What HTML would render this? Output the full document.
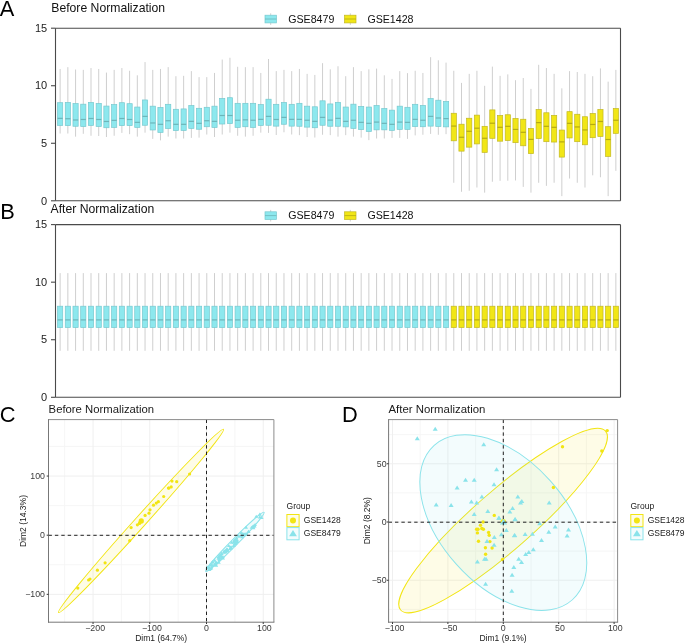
<!DOCTYPE html><html><head><meta charset="utf-8"><style>html,body{margin:0;padding:0;background:#fff;width:685px;height:643px;overflow:hidden;position:relative}svg,text{font-family:"Liberation Sans",sans-serif}</style></head><body><svg width="685" height="643" viewBox="0 0 685 643" style="position:absolute;left:0;top:0;will-change:transform">
<rect width="685" height="643" fill="#fff"/>
<text x="-0.2" y="15.9" font-size="21.8" fill="#000">A</text>
<text x="51.3" y="12" font-size="12.2" fill="#111">Before Normalization</text>
<line x1="270.7" y1="13.3" x2="270.7" y2="24.9" stroke="#cfcfcf" stroke-width="1"/>
<rect x="265" y="15.2" width="11.4" height="7.7" fill="#8de8ee" stroke="#77c9cf" stroke-width="0.7"/>
<line x1="265" y1="19.0" x2="276.4" y2="19.0" stroke="#6db5b9" stroke-width="0.8"/>
<text x="288.2" y="22.6" font-size="10.65" fill="#111">GSE8479</text>
<line x1="350.3" y1="13.3" x2="350.3" y2="24.9" stroke="#cfcfcf" stroke-width="1"/>
<rect x="344.6" y="15.2" width="11.4" height="7.7" fill="#f1e616" stroke="#c2b820" stroke-width="0.7"/>
<line x1="344.6" y1="19.0" x2="356.0" y2="19.0" stroke="#b5aa12" stroke-width="0.8"/>
<text x="367.4" y="22.6" font-size="10.65" fill="#111">GSE1428</text>
<line x1="60.13" y1="68.96" x2="60.13" y2="133.54" stroke="#cfcfcf" stroke-width="1"/>
<rect x="57.53" y="102.69" width="5.2" height="22.69" fill="#8de8ee" stroke="#77c9cf" stroke-width="0.7"/>
<line x1="57.53" y1="118.36" x2="62.73" y2="118.36" stroke="#6db5b9" stroke-width="1.2"/>
<line x1="67.85" y1="67.15" x2="67.85" y2="133.54" stroke="#cfcfcf" stroke-width="1"/>
<rect x="65.25" y="102.44" width="5.2" height="23.18" fill="#8de8ee" stroke="#77c9cf" stroke-width="0.7"/>
<line x1="65.25" y1="118.74" x2="70.45" y2="118.74" stroke="#6db5b9" stroke-width="1.2"/>
<line x1="75.57" y1="69.51" x2="75.57" y2="136.65" stroke="#cfcfcf" stroke-width="1"/>
<rect x="72.97" y="103.56" width="5.2" height="22.69" fill="#8de8ee" stroke="#77c9cf" stroke-width="0.7"/>
<line x1="72.97" y1="119.98" x2="78.17" y2="119.98" stroke="#6db5b9" stroke-width="1.2"/>
<line x1="83.29" y1="69.87" x2="83.29" y2="133.79" stroke="#cfcfcf" stroke-width="1"/>
<rect x="80.69" y="104.18" width="5.2" height="22.31" fill="#8de8ee" stroke="#77c9cf" stroke-width="0.7"/>
<line x1="80.69" y1="119.48" x2="85.89" y2="119.48" stroke="#6db5b9" stroke-width="1.2"/>
<line x1="91.01" y1="68.06" x2="91.01" y2="135.78" stroke="#cfcfcf" stroke-width="1"/>
<rect x="88.41" y="102.44" width="5.2" height="22.94" fill="#8de8ee" stroke="#77c9cf" stroke-width="0.7"/>
<line x1="88.41" y1="118.49" x2="93.61" y2="118.49" stroke="#6db5b9" stroke-width="1.2"/>
<line x1="98.72" y1="68.96" x2="98.72" y2="136.03" stroke="#cfcfcf" stroke-width="1"/>
<rect x="96.12" y="103.44" width="5.2" height="23.06" fill="#8de8ee" stroke="#77c9cf" stroke-width="0.7"/>
<line x1="96.12" y1="119.48" x2="101.32" y2="119.48" stroke="#6db5b9" stroke-width="1.2"/>
<line x1="106.44" y1="72.58" x2="106.44" y2="137.02" stroke="#cfcfcf" stroke-width="1"/>
<rect x="103.84" y="106.05" width="5.2" height="21.69" fill="#8de8ee" stroke="#77c9cf" stroke-width="0.7"/>
<line x1="103.84" y1="121.47" x2="109.04" y2="121.47" stroke="#6db5b9" stroke-width="1.2"/>
<line x1="114.16" y1="69.87" x2="114.16" y2="135.78" stroke="#cfcfcf" stroke-width="1"/>
<rect x="111.56" y="104.56" width="5.2" height="22.81" fill="#8de8ee" stroke="#77c9cf" stroke-width="0.7"/>
<line x1="111.56" y1="120.35" x2="116.76" y2="120.35" stroke="#6db5b9" stroke-width="1.2"/>
<line x1="121.88" y1="68.06" x2="121.88" y2="132.92" stroke="#cfcfcf" stroke-width="1"/>
<rect x="119.28" y="102.69" width="5.2" height="22.94" fill="#8de8ee" stroke="#77c9cf" stroke-width="0.7"/>
<line x1="119.28" y1="118.49" x2="124.48" y2="118.49" stroke="#6db5b9" stroke-width="1.2"/>
<line x1="129.60" y1="70.77" x2="129.60" y2="134.16" stroke="#cfcfcf" stroke-width="1"/>
<rect x="127.00" y="103.68" width="5.2" height="21.94" fill="#8de8ee" stroke="#77c9cf" stroke-width="0.7"/>
<line x1="127.00" y1="119.48" x2="132.20" y2="119.48" stroke="#6db5b9" stroke-width="1.2"/>
<line x1="137.32" y1="75.30" x2="137.32" y2="136.65" stroke="#cfcfcf" stroke-width="1"/>
<rect x="134.72" y="107.04" width="5.2" height="20.33" fill="#8de8ee" stroke="#77c9cf" stroke-width="0.7"/>
<line x1="134.72" y1="122.34" x2="139.92" y2="122.34" stroke="#6db5b9" stroke-width="1.2"/>
<line x1="145.04" y1="62.08" x2="145.04" y2="132.67" stroke="#cfcfcf" stroke-width="1"/>
<rect x="142.44" y="99.95" width="5.2" height="25.30" fill="#8de8ee" stroke="#77c9cf" stroke-width="0.7"/>
<line x1="142.44" y1="116.37" x2="147.64" y2="116.37" stroke="#6db5b9" stroke-width="1.2"/>
<line x1="152.75" y1="69.87" x2="152.75" y2="138.89" stroke="#cfcfcf" stroke-width="1"/>
<rect x="150.15" y="106.17" width="5.2" height="23.81" fill="#8de8ee" stroke="#77c9cf" stroke-width="0.7"/>
<line x1="150.15" y1="122.97" x2="155.35" y2="122.97" stroke="#6db5b9" stroke-width="1.2"/>
<line x1="160.47" y1="68.96" x2="160.47" y2="140.38" stroke="#cfcfcf" stroke-width="1"/>
<rect x="157.87" y="107.42" width="5.2" height="25.05" fill="#8de8ee" stroke="#77c9cf" stroke-width="0.7"/>
<line x1="157.87" y1="124.33" x2="163.07" y2="124.33" stroke="#6db5b9" stroke-width="1.2"/>
<line x1="168.19" y1="67.15" x2="168.19" y2="136.65" stroke="#cfcfcf" stroke-width="1"/>
<rect x="165.59" y="104.31" width="5.2" height="24.18" fill="#8de8ee" stroke="#77c9cf" stroke-width="0.7"/>
<line x1="165.59" y1="120.73" x2="170.79" y2="120.73" stroke="#6db5b9" stroke-width="1.2"/>
<line x1="175.91" y1="76.20" x2="175.91" y2="138.52" stroke="#cfcfcf" stroke-width="1"/>
<rect x="173.31" y="109.28" width="5.2" height="21.32" fill="#8de8ee" stroke="#77c9cf" stroke-width="0.7"/>
<line x1="173.31" y1="124.33" x2="178.51" y2="124.33" stroke="#6db5b9" stroke-width="1.2"/>
<line x1="183.63" y1="75.84" x2="183.63" y2="138.52" stroke="#cfcfcf" stroke-width="1"/>
<rect x="181.03" y="108.91" width="5.2" height="21.57" fill="#8de8ee" stroke="#77c9cf" stroke-width="0.7"/>
<line x1="181.03" y1="124.33" x2="186.23" y2="124.33" stroke="#6db5b9" stroke-width="1.2"/>
<line x1="191.35" y1="71.14" x2="191.35" y2="137.89" stroke="#cfcfcf" stroke-width="1"/>
<rect x="188.75" y="105.55" width="5.2" height="22.81" fill="#8de8ee" stroke="#77c9cf" stroke-width="0.7"/>
<line x1="188.75" y1="121.35" x2="193.95" y2="121.35" stroke="#6db5b9" stroke-width="1.2"/>
<line x1="199.07" y1="77.11" x2="199.07" y2="137.65" stroke="#cfcfcf" stroke-width="1"/>
<rect x="196.47" y="108.29" width="5.2" height="20.95" fill="#8de8ee" stroke="#77c9cf" stroke-width="0.7"/>
<line x1="196.47" y1="123.34" x2="201.67" y2="123.34" stroke="#6db5b9" stroke-width="1.2"/>
<line x1="206.78" y1="77.11" x2="206.78" y2="134.54" stroke="#cfcfcf" stroke-width="1"/>
<rect x="204.18" y="107.29" width="5.2" height="19.45" fill="#8de8ee" stroke="#77c9cf" stroke-width="0.7"/>
<line x1="204.18" y1="120.73" x2="209.38" y2="120.73" stroke="#6db5b9" stroke-width="1.2"/>
<line x1="214.50" y1="72.95" x2="214.50" y2="137.02" stroke="#cfcfcf" stroke-width="1"/>
<rect x="211.90" y="106.17" width="5.2" height="21.32" fill="#8de8ee" stroke="#77c9cf" stroke-width="0.7"/>
<line x1="211.90" y1="121.35" x2="217.10" y2="121.35" stroke="#6db5b9" stroke-width="1.2"/>
<line x1="222.22" y1="59.55" x2="222.22" y2="134.53" stroke="#cfcfcf" stroke-width="1"/>
<rect x="219.62" y="98.46" width="5.2" height="25.55" fill="#8de8ee" stroke="#77c9cf" stroke-width="0.7"/>
<line x1="219.62" y1="115.50" x2="224.82" y2="115.50" stroke="#6db5b9" stroke-width="1.2"/>
<line x1="229.94" y1="57.74" x2="229.94" y2="132.67" stroke="#cfcfcf" stroke-width="1"/>
<rect x="227.34" y="97.71" width="5.2" height="25.92" fill="#8de8ee" stroke="#77c9cf" stroke-width="0.7"/>
<line x1="227.34" y1="115.50" x2="232.54" y2="115.50" stroke="#6db5b9" stroke-width="1.2"/>
<line x1="237.66" y1="66.79" x2="237.66" y2="135.78" stroke="#cfcfcf" stroke-width="1"/>
<rect x="235.06" y="103.31" width="5.2" height="24.06" fill="#8de8ee" stroke="#77c9cf" stroke-width="0.7"/>
<line x1="235.06" y1="120.23" x2="240.26" y2="120.23" stroke="#6db5b9" stroke-width="1.2"/>
<line x1="245.38" y1="67.15" x2="245.38" y2="136.65" stroke="#cfcfcf" stroke-width="1"/>
<rect x="242.78" y="103.31" width="5.2" height="23.43" fill="#8de8ee" stroke="#77c9cf" stroke-width="0.7"/>
<line x1="242.78" y1="119.85" x2="247.98" y2="119.85" stroke="#6db5b9" stroke-width="1.2"/>
<line x1="253.10" y1="67.15" x2="253.10" y2="135.78" stroke="#cfcfcf" stroke-width="1"/>
<rect x="250.50" y="103.31" width="5.2" height="24.06" fill="#8de8ee" stroke="#77c9cf" stroke-width="0.7"/>
<line x1="250.50" y1="120.23" x2="255.70" y2="120.23" stroke="#6db5b9" stroke-width="1.2"/>
<line x1="260.81" y1="72.95" x2="260.81" y2="132.67" stroke="#cfcfcf" stroke-width="1"/>
<rect x="258.21" y="104.56" width="5.2" height="20.82" fill="#8de8ee" stroke="#77c9cf" stroke-width="0.7"/>
<line x1="258.21" y1="119.36" x2="263.41" y2="119.36" stroke="#6db5b9" stroke-width="1.2"/>
<line x1="268.53" y1="59.01" x2="268.53" y2="132.92" stroke="#cfcfcf" stroke-width="1"/>
<rect x="265.93" y="99.21" width="5.2" height="26.05" fill="#8de8ee" stroke="#77c9cf" stroke-width="0.7"/>
<line x1="265.93" y1="116.37" x2="271.13" y2="116.37" stroke="#6db5b9" stroke-width="1.2"/>
<line x1="276.25" y1="71.14" x2="276.25" y2="135.03" stroke="#cfcfcf" stroke-width="1"/>
<rect x="273.65" y="104.31" width="5.2" height="21.82" fill="#8de8ee" stroke="#77c9cf" stroke-width="0.7"/>
<line x1="273.65" y1="119.48" x2="278.85" y2="119.48" stroke="#6db5b9" stroke-width="1.2"/>
<line x1="283.97" y1="69.87" x2="283.97" y2="132.29" stroke="#cfcfcf" stroke-width="1"/>
<rect x="281.37" y="102.44" width="5.2" height="21.82" fill="#8de8ee" stroke="#77c9cf" stroke-width="0.7"/>
<line x1="281.37" y1="117.37" x2="286.57" y2="117.37" stroke="#6db5b9" stroke-width="1.2"/>
<line x1="291.69" y1="71.14" x2="291.69" y2="134.53" stroke="#cfcfcf" stroke-width="1"/>
<rect x="289.09" y="104.31" width="5.2" height="21.82" fill="#8de8ee" stroke="#77c9cf" stroke-width="0.7"/>
<line x1="289.09" y1="119.36" x2="294.29" y2="119.36" stroke="#6db5b9" stroke-width="1.2"/>
<line x1="299.41" y1="68.96" x2="299.41" y2="135.16" stroke="#cfcfcf" stroke-width="1"/>
<rect x="296.81" y="103.31" width="5.2" height="22.94" fill="#8de8ee" stroke="#77c9cf" stroke-width="0.7"/>
<line x1="296.81" y1="119.36" x2="302.01" y2="119.36" stroke="#6db5b9" stroke-width="1.2"/>
<line x1="307.13" y1="73.85" x2="307.13" y2="137.02" stroke="#cfcfcf" stroke-width="1"/>
<rect x="304.53" y="106.17" width="5.2" height="20.95" fill="#8de8ee" stroke="#77c9cf" stroke-width="0.7"/>
<line x1="304.53" y1="120.23" x2="309.73" y2="120.23" stroke="#6db5b9" stroke-width="1.2"/>
<line x1="314.84" y1="74.94" x2="314.84" y2="137.52" stroke="#cfcfcf" stroke-width="1"/>
<rect x="312.24" y="106.79" width="5.2" height="20.95" fill="#8de8ee" stroke="#77c9cf" stroke-width="0.7"/>
<line x1="312.24" y1="121.35" x2="317.44" y2="121.35" stroke="#6db5b9" stroke-width="1.2"/>
<line x1="322.56" y1="63.17" x2="322.56" y2="134.78" stroke="#cfcfcf" stroke-width="1"/>
<rect x="319.96" y="100.82" width="5.2" height="24.43" fill="#8de8ee" stroke="#77c9cf" stroke-width="0.7"/>
<line x1="319.96" y1="117.37" x2="325.16" y2="117.37" stroke="#6db5b9" stroke-width="1.2"/>
<line x1="330.28" y1="69.33" x2="330.28" y2="135.16" stroke="#cfcfcf" stroke-width="1"/>
<rect x="327.68" y="103.93" width="5.2" height="22.31" fill="#8de8ee" stroke="#77c9cf" stroke-width="0.7"/>
<line x1="327.68" y1="120.10" x2="332.88" y2="120.10" stroke="#6db5b9" stroke-width="1.2"/>
<line x1="338.00" y1="66.25" x2="338.00" y2="136.65" stroke="#cfcfcf" stroke-width="1"/>
<rect x="335.40" y="102.32" width="5.2" height="23.93" fill="#8de8ee" stroke="#77c9cf" stroke-width="0.7"/>
<line x1="335.40" y1="118.36" x2="340.60" y2="118.36" stroke="#6db5b9" stroke-width="1.2"/>
<line x1="345.72" y1="76.20" x2="345.72" y2="135.16" stroke="#cfcfcf" stroke-width="1"/>
<rect x="343.12" y="107.04" width="5.2" height="19.83" fill="#8de8ee" stroke="#77c9cf" stroke-width="0.7"/>
<line x1="343.12" y1="121.35" x2="348.32" y2="121.35" stroke="#6db5b9" stroke-width="1.2"/>
<line x1="353.44" y1="67.15" x2="353.44" y2="136.65" stroke="#cfcfcf" stroke-width="1"/>
<rect x="350.84" y="104.18" width="5.2" height="24.18" fill="#8de8ee" stroke="#77c9cf" stroke-width="0.7"/>
<line x1="350.84" y1="120.23" x2="356.04" y2="120.23" stroke="#6db5b9" stroke-width="1.2"/>
<line x1="361.16" y1="71.14" x2="361.16" y2="137.64" stroke="#cfcfcf" stroke-width="1"/>
<rect x="358.56" y="106.42" width="5.2" height="23.18" fill="#8de8ee" stroke="#77c9cf" stroke-width="0.7"/>
<line x1="358.56" y1="122.34" x2="363.76" y2="122.34" stroke="#6db5b9" stroke-width="1.2"/>
<line x1="368.87" y1="69.33" x2="368.87" y2="140.13" stroke="#cfcfcf" stroke-width="1"/>
<rect x="366.27" y="107.04" width="5.2" height="24.43" fill="#8de8ee" stroke="#77c9cf" stroke-width="0.7"/>
<line x1="366.27" y1="123.34" x2="371.47" y2="123.34" stroke="#6db5b9" stroke-width="1.2"/>
<line x1="376.59" y1="68.60" x2="376.59" y2="138.51" stroke="#cfcfcf" stroke-width="1"/>
<rect x="373.99" y="105.55" width="5.2" height="24.30" fill="#8de8ee" stroke="#77c9cf" stroke-width="0.7"/>
<line x1="373.99" y1="122.09" x2="379.19" y2="122.09" stroke="#6db5b9" stroke-width="1.2"/>
<line x1="384.31" y1="75.30" x2="384.31" y2="138.51" stroke="#cfcfcf" stroke-width="1"/>
<rect x="381.71" y="108.54" width="5.2" height="21.32" fill="#8de8ee" stroke="#77c9cf" stroke-width="0.7"/>
<line x1="381.71" y1="123.34" x2="386.91" y2="123.34" stroke="#6db5b9" stroke-width="1.2"/>
<line x1="392.03" y1="78.92" x2="392.03" y2="137.89" stroke="#cfcfcf" stroke-width="1"/>
<rect x="389.43" y="110.15" width="5.2" height="20.20" fill="#8de8ee" stroke="#77c9cf" stroke-width="0.7"/>
<line x1="389.43" y1="124.33" x2="394.63" y2="124.33" stroke="#6db5b9" stroke-width="1.2"/>
<line x1="399.75" y1="71.14" x2="399.75" y2="137.89" stroke="#cfcfcf" stroke-width="1"/>
<rect x="397.15" y="106.17" width="5.2" height="23.18" fill="#8de8ee" stroke="#77c9cf" stroke-width="0.7"/>
<line x1="397.15" y1="122.09" x2="402.35" y2="122.09" stroke="#6db5b9" stroke-width="1.2"/>
<line x1="407.47" y1="73.13" x2="407.47" y2="138.89" stroke="#cfcfcf" stroke-width="1"/>
<rect x="404.87" y="107.29" width="5.2" height="22.07" fill="#8de8ee" stroke="#77c9cf" stroke-width="0.7"/>
<line x1="404.87" y1="122.34" x2="410.07" y2="122.34" stroke="#6db5b9" stroke-width="1.2"/>
<line x1="415.19" y1="70.77" x2="415.19" y2="135.40" stroke="#cfcfcf" stroke-width="1"/>
<rect x="412.59" y="104.31" width="5.2" height="22.19" fill="#8de8ee" stroke="#77c9cf" stroke-width="0.7"/>
<line x1="412.59" y1="119.36" x2="417.79" y2="119.36" stroke="#6db5b9" stroke-width="1.2"/>
<line x1="422.90" y1="72.95" x2="422.90" y2="134.78" stroke="#cfcfcf" stroke-width="1"/>
<rect x="420.30" y="105.43" width="5.2" height="21.32" fill="#8de8ee" stroke="#77c9cf" stroke-width="0.7"/>
<line x1="420.30" y1="120.23" x2="425.50" y2="120.23" stroke="#6db5b9" stroke-width="1.2"/>
<line x1="430.62" y1="57.20" x2="430.62" y2="133.91" stroke="#cfcfcf" stroke-width="1"/>
<rect x="428.02" y="98.58" width="5.2" height="27.54" fill="#8de8ee" stroke="#77c9cf" stroke-width="0.7"/>
<line x1="428.02" y1="116.37" x2="433.22" y2="116.37" stroke="#6db5b9" stroke-width="1.2"/>
<line x1="438.34" y1="60.27" x2="438.34" y2="134.78" stroke="#cfcfcf" stroke-width="1"/>
<rect x="435.74" y="100.20" width="5.2" height="26.29" fill="#8de8ee" stroke="#77c9cf" stroke-width="0.7"/>
<line x1="435.74" y1="117.99" x2="440.94" y2="117.99" stroke="#6db5b9" stroke-width="1.2"/>
<line x1="446.06" y1="62.63" x2="446.06" y2="134.16" stroke="#cfcfcf" stroke-width="1"/>
<rect x="443.46" y="101.45" width="5.2" height="25.42" fill="#8de8ee" stroke="#77c9cf" stroke-width="0.7"/>
<line x1="443.46" y1="118.61" x2="448.66" y2="118.61" stroke="#6db5b9" stroke-width="1.2"/>
<line x1="453.78" y1="70.77" x2="453.78" y2="182.78" stroke="#cfcfcf" stroke-width="1"/>
<rect x="451.18" y="113.26" width="5.2" height="27.54" fill="#f1e616" stroke="#c2b820" stroke-width="0.7"/>
<line x1="451.18" y1="126.07" x2="456.38" y2="126.07" stroke="#b5aa12" stroke-width="1.2"/>
<line x1="461.50" y1="82.90" x2="461.50" y2="191.77" stroke="#cfcfcf" stroke-width="1"/>
<rect x="458.90" y="124.21" width="5.2" height="26.92" fill="#f1e616" stroke="#c2b820" stroke-width="0.7"/>
<line x1="458.90" y1="137.27" x2="464.10" y2="137.27" stroke="#b5aa12" stroke-width="1.2"/>
<line x1="469.22" y1="73.85" x2="469.22" y2="190.74" stroke="#cfcfcf" stroke-width="1"/>
<rect x="466.62" y="118.24" width="5.2" height="28.91" fill="#f1e616" stroke="#c2b820" stroke-width="0.7"/>
<line x1="466.62" y1="131.30" x2="471.82" y2="131.30" stroke="#b5aa12" stroke-width="1.2"/>
<line x1="476.93" y1="70.77" x2="476.93" y2="187.53" stroke="#cfcfcf" stroke-width="1"/>
<rect x="474.33" y="115.13" width="5.2" height="28.78" fill="#f1e616" stroke="#c2b820" stroke-width="0.7"/>
<line x1="474.33" y1="128.19" x2="479.53" y2="128.19" stroke="#b5aa12" stroke-width="1.2"/>
<line x1="484.65" y1="85.80" x2="484.65" y2="192.67" stroke="#cfcfcf" stroke-width="1"/>
<rect x="482.05" y="126.32" width="5.2" height="26.05" fill="#f1e616" stroke="#c2b820" stroke-width="0.7"/>
<line x1="482.05" y1="138.26" x2="487.25" y2="138.26" stroke="#b5aa12" stroke-width="1.2"/>
<line x1="492.37" y1="66.61" x2="492.37" y2="181.75" stroke="#cfcfcf" stroke-width="1"/>
<rect x="489.77" y="109.90" width="5.2" height="28.41" fill="#f1e616" stroke="#c2b820" stroke-width="0.7"/>
<line x1="489.77" y1="123.21" x2="494.97" y2="123.21" stroke="#b5aa12" stroke-width="1.2"/>
<line x1="500.09" y1="75.84" x2="500.09" y2="180.85" stroke="#cfcfcf" stroke-width="1"/>
<rect x="497.49" y="115.50" width="5.2" height="25.67" fill="#f1e616" stroke="#c2b820" stroke-width="0.7"/>
<line x1="497.49" y1="127.32" x2="502.69" y2="127.32" stroke="#b5aa12" stroke-width="1.2"/>
<line x1="507.81" y1="74.39" x2="507.81" y2="180.72" stroke="#cfcfcf" stroke-width="1"/>
<rect x="505.21" y="114.76" width="5.2" height="25.80" fill="#f1e616" stroke="#c2b820" stroke-width="0.7"/>
<line x1="505.21" y1="126.32" x2="510.41" y2="126.32" stroke="#b5aa12" stroke-width="1.2"/>
<line x1="515.53" y1="80.19" x2="515.53" y2="180.47" stroke="#cfcfcf" stroke-width="1"/>
<rect x="512.93" y="118.49" width="5.2" height="24.18" fill="#f1e616" stroke="#c2b820" stroke-width="0.7"/>
<line x1="512.93" y1="129.43" x2="518.13" y2="129.43" stroke="#b5aa12" stroke-width="1.2"/>
<line x1="523.25" y1="78.01" x2="523.25" y2="186.89" stroke="#cfcfcf" stroke-width="1"/>
<rect x="520.65" y="119.24" width="5.2" height="26.55" fill="#f1e616" stroke="#c2b820" stroke-width="0.7"/>
<line x1="520.65" y1="132.30" x2="525.85" y2="132.30" stroke="#b5aa12" stroke-width="1.2"/>
<line x1="530.96" y1="88.88" x2="530.96" y2="192.67" stroke="#cfcfcf" stroke-width="1"/>
<rect x="528.36" y="128.44" width="5.2" height="25.18" fill="#f1e616" stroke="#c2b820" stroke-width="0.7"/>
<line x1="528.36" y1="139.39" x2="533.56" y2="139.39" stroke="#b5aa12" stroke-width="1.2"/>
<line x1="538.68" y1="64.80" x2="538.68" y2="182.78" stroke="#cfcfcf" stroke-width="1"/>
<rect x="536.08" y="109.53" width="5.2" height="29.03" fill="#f1e616" stroke="#c2b820" stroke-width="0.7"/>
<line x1="536.08" y1="122.59" x2="541.28" y2="122.59" stroke="#b5aa12" stroke-width="1.2"/>
<line x1="546.40" y1="68.06" x2="546.40" y2="185.86" stroke="#cfcfcf" stroke-width="1"/>
<rect x="543.80" y="112.77" width="5.2" height="28.91" fill="#f1e616" stroke="#c2b820" stroke-width="0.7"/>
<line x1="543.80" y1="126.33" x2="549.00" y2="126.33" stroke="#b5aa12" stroke-width="1.2"/>
<line x1="554.12" y1="73.85" x2="554.12" y2="182.78" stroke="#cfcfcf" stroke-width="1"/>
<rect x="551.52" y="115.38" width="5.2" height="26.67" fill="#f1e616" stroke="#c2b820" stroke-width="0.7"/>
<line x1="551.52" y1="127.32" x2="556.72" y2="127.32" stroke="#b5aa12" stroke-width="1.2"/>
<line x1="561.84" y1="88.33" x2="561.84" y2="196.14" stroke="#cfcfcf" stroke-width="1"/>
<rect x="559.24" y="130.06" width="5.2" height="27.04" fill="#f1e616" stroke="#c2b820" stroke-width="0.7"/>
<line x1="559.24" y1="141.88" x2="564.44" y2="141.88" stroke="#b5aa12" stroke-width="1.2"/>
<line x1="569.56" y1="71.14" x2="569.56" y2="178.54" stroke="#cfcfcf" stroke-width="1"/>
<rect x="566.96" y="111.65" width="5.2" height="26.30" fill="#f1e616" stroke="#c2b820" stroke-width="0.7"/>
<line x1="566.96" y1="123.34" x2="572.16" y2="123.34" stroke="#b5aa12" stroke-width="1.2"/>
<line x1="577.28" y1="72.04" x2="577.28" y2="182.78" stroke="#cfcfcf" stroke-width="1"/>
<rect x="574.68" y="114.26" width="5.2" height="27.42" fill="#f1e616" stroke="#c2b820" stroke-width="0.7"/>
<line x1="574.68" y1="126.95" x2="579.88" y2="126.95" stroke="#b5aa12" stroke-width="1.2"/>
<line x1="584.99" y1="73.85" x2="584.99" y2="187.53" stroke="#cfcfcf" stroke-width="1"/>
<rect x="582.39" y="116.75" width="5.2" height="28.04" fill="#f1e616" stroke="#c2b820" stroke-width="0.7"/>
<line x1="582.39" y1="129.93" x2="587.59" y2="129.93" stroke="#b5aa12" stroke-width="1.2"/>
<line x1="592.71" y1="76.20" x2="592.71" y2="175.33" stroke="#cfcfcf" stroke-width="1"/>
<rect x="590.11" y="113.51" width="5.2" height="24.18" fill="#f1e616" stroke="#c2b820" stroke-width="0.7"/>
<line x1="590.11" y1="124.46" x2="595.31" y2="124.46" stroke="#b5aa12" stroke-width="1.2"/>
<line x1="600.43" y1="68.42" x2="600.43" y2="177.26" stroke="#cfcfcf" stroke-width="1"/>
<rect x="597.83" y="109.53" width="5.2" height="26.92" fill="#f1e616" stroke="#c2b820" stroke-width="0.7"/>
<line x1="597.83" y1="121.47" x2="603.03" y2="121.47" stroke="#b5aa12" stroke-width="1.2"/>
<line x1="608.15" y1="81.64" x2="608.15" y2="196.14" stroke="#cfcfcf" stroke-width="1"/>
<rect x="605.55" y="126.70" width="5.2" height="29.65" fill="#f1e616" stroke="#c2b820" stroke-width="0.7"/>
<line x1="605.55" y1="139.51" x2="610.75" y2="139.51" stroke="#b5aa12" stroke-width="1.2"/>
<line x1="615.87" y1="69.87" x2="615.87" y2="170.83" stroke="#cfcfcf" stroke-width="1"/>
<rect x="613.27" y="108.54" width="5.2" height="24.80" fill="#f1e616" stroke="#c2b820" stroke-width="0.7"/>
<line x1="613.27" y1="120.23" x2="618.47" y2="120.23" stroke="#b5aa12" stroke-width="1.2"/>
<line x1="55.5" y1="28.2" x2="620.5" y2="28.2" stroke="#4a4a4a" stroke-width="1.1"/>
<line x1="55.5" y1="200.8" x2="620.5" y2="200.8" stroke="#4a4a4a" stroke-width="1.1"/>
<line x1="620.5" y1="28.2" x2="620.5" y2="200.8" stroke="#4a4a4a" stroke-width="1.1"/>
<line x1="55.5" y1="28.2" x2="55.5" y2="200.8" stroke="#4a4a4a" stroke-width="1.1"/>
<line x1="51.0" y1="200.80" x2="55.5" y2="200.80" stroke="#4a4a4a" stroke-width="1.1"/>
<text x="47.2" y="204.50" text-anchor="end" font-size="11" fill="#222">0</text>
<line x1="51.0" y1="143.27" x2="55.5" y2="143.27" stroke="#4a4a4a" stroke-width="1.1"/>
<text x="47.2" y="146.97" text-anchor="end" font-size="11" fill="#222">5</text>
<line x1="51.0" y1="85.73" x2="55.5" y2="85.73" stroke="#4a4a4a" stroke-width="1.1"/>
<text x="47.2" y="89.43" text-anchor="end" font-size="11" fill="#222">10</text>
<line x1="51.0" y1="28.20" x2="55.5" y2="28.20" stroke="#4a4a4a" stroke-width="1.1"/>
<text x="47.2" y="31.90" text-anchor="end" font-size="11" fill="#222">15</text>
<text x="0.2" y="219.1" font-size="21.8" fill="#000">B</text>
<text x="50.6" y="212.9" font-size="12.2" fill="#111">After Normalization</text>
<line x1="270.7" y1="209.9" x2="270.7" y2="221.5" stroke="#cfcfcf" stroke-width="1"/>
<rect x="265" y="211.79999999999998" width="11.4" height="7.7" fill="#8de8ee" stroke="#77c9cf" stroke-width="0.7"/>
<line x1="265" y1="215.6" x2="276.4" y2="215.6" stroke="#6db5b9" stroke-width="0.8"/>
<text x="288.2" y="219.2" font-size="10.65" fill="#111">GSE8479</text>
<line x1="350.3" y1="209.9" x2="350.3" y2="221.5" stroke="#cfcfcf" stroke-width="1"/>
<rect x="344.6" y="211.79999999999998" width="11.4" height="7.7" fill="#f1e616" stroke="#c2b820" stroke-width="0.7"/>
<line x1="344.6" y1="215.6" x2="356.0" y2="215.6" stroke="#b5aa12" stroke-width="0.8"/>
<text x="367.4" y="219.2" font-size="10.65" fill="#111">GSE1428</text>
<line x1="60.13" y1="273.10" x2="60.13" y2="350.80" stroke="#cfcfcf" stroke-width="1"/>
<rect x="57.53" y="306.20" width="5.2" height="21.35" fill="#8de8ee" stroke="#77c9cf" stroke-width="0.7"/>
<line x1="57.53" y1="319.90" x2="62.73" y2="319.90" stroke="#6db5b9" stroke-width="1.2"/>
<line x1="67.85" y1="273.10" x2="67.85" y2="350.80" stroke="#cfcfcf" stroke-width="1"/>
<rect x="65.25" y="306.20" width="5.2" height="21.35" fill="#8de8ee" stroke="#77c9cf" stroke-width="0.7"/>
<line x1="65.25" y1="319.90" x2="70.45" y2="319.90" stroke="#6db5b9" stroke-width="1.2"/>
<line x1="75.57" y1="273.10" x2="75.57" y2="350.80" stroke="#cfcfcf" stroke-width="1"/>
<rect x="72.97" y="306.20" width="5.2" height="21.35" fill="#8de8ee" stroke="#77c9cf" stroke-width="0.7"/>
<line x1="72.97" y1="319.90" x2="78.17" y2="319.90" stroke="#6db5b9" stroke-width="1.2"/>
<line x1="83.29" y1="273.10" x2="83.29" y2="350.80" stroke="#cfcfcf" stroke-width="1"/>
<rect x="80.69" y="306.20" width="5.2" height="21.35" fill="#8de8ee" stroke="#77c9cf" stroke-width="0.7"/>
<line x1="80.69" y1="319.90" x2="85.89" y2="319.90" stroke="#6db5b9" stroke-width="1.2"/>
<line x1="91.01" y1="273.10" x2="91.01" y2="350.80" stroke="#cfcfcf" stroke-width="1"/>
<rect x="88.41" y="306.20" width="5.2" height="21.35" fill="#8de8ee" stroke="#77c9cf" stroke-width="0.7"/>
<line x1="88.41" y1="319.90" x2="93.61" y2="319.90" stroke="#6db5b9" stroke-width="1.2"/>
<line x1="98.72" y1="273.10" x2="98.72" y2="350.80" stroke="#cfcfcf" stroke-width="1"/>
<rect x="96.12" y="306.20" width="5.2" height="21.35" fill="#8de8ee" stroke="#77c9cf" stroke-width="0.7"/>
<line x1="96.12" y1="319.90" x2="101.32" y2="319.90" stroke="#6db5b9" stroke-width="1.2"/>
<line x1="106.44" y1="273.10" x2="106.44" y2="350.80" stroke="#cfcfcf" stroke-width="1"/>
<rect x="103.84" y="306.20" width="5.2" height="21.35" fill="#8de8ee" stroke="#77c9cf" stroke-width="0.7"/>
<line x1="103.84" y1="319.90" x2="109.04" y2="319.90" stroke="#6db5b9" stroke-width="1.2"/>
<line x1="114.16" y1="273.10" x2="114.16" y2="350.80" stroke="#cfcfcf" stroke-width="1"/>
<rect x="111.56" y="306.20" width="5.2" height="21.35" fill="#8de8ee" stroke="#77c9cf" stroke-width="0.7"/>
<line x1="111.56" y1="319.90" x2="116.76" y2="319.90" stroke="#6db5b9" stroke-width="1.2"/>
<line x1="121.88" y1="273.10" x2="121.88" y2="350.80" stroke="#cfcfcf" stroke-width="1"/>
<rect x="119.28" y="306.20" width="5.2" height="21.35" fill="#8de8ee" stroke="#77c9cf" stroke-width="0.7"/>
<line x1="119.28" y1="319.90" x2="124.48" y2="319.90" stroke="#6db5b9" stroke-width="1.2"/>
<line x1="129.60" y1="273.10" x2="129.60" y2="350.80" stroke="#cfcfcf" stroke-width="1"/>
<rect x="127.00" y="306.20" width="5.2" height="21.35" fill="#8de8ee" stroke="#77c9cf" stroke-width="0.7"/>
<line x1="127.00" y1="319.90" x2="132.20" y2="319.90" stroke="#6db5b9" stroke-width="1.2"/>
<line x1="137.32" y1="273.10" x2="137.32" y2="350.80" stroke="#cfcfcf" stroke-width="1"/>
<rect x="134.72" y="306.20" width="5.2" height="21.35" fill="#8de8ee" stroke="#77c9cf" stroke-width="0.7"/>
<line x1="134.72" y1="319.90" x2="139.92" y2="319.90" stroke="#6db5b9" stroke-width="1.2"/>
<line x1="145.04" y1="273.10" x2="145.04" y2="350.80" stroke="#cfcfcf" stroke-width="1"/>
<rect x="142.44" y="306.20" width="5.2" height="21.35" fill="#8de8ee" stroke="#77c9cf" stroke-width="0.7"/>
<line x1="142.44" y1="319.90" x2="147.64" y2="319.90" stroke="#6db5b9" stroke-width="1.2"/>
<line x1="152.75" y1="273.10" x2="152.75" y2="350.80" stroke="#cfcfcf" stroke-width="1"/>
<rect x="150.15" y="306.20" width="5.2" height="21.35" fill="#8de8ee" stroke="#77c9cf" stroke-width="0.7"/>
<line x1="150.15" y1="319.90" x2="155.35" y2="319.90" stroke="#6db5b9" stroke-width="1.2"/>
<line x1="160.47" y1="273.10" x2="160.47" y2="350.80" stroke="#cfcfcf" stroke-width="1"/>
<rect x="157.87" y="306.20" width="5.2" height="21.35" fill="#8de8ee" stroke="#77c9cf" stroke-width="0.7"/>
<line x1="157.87" y1="319.90" x2="163.07" y2="319.90" stroke="#6db5b9" stroke-width="1.2"/>
<line x1="168.19" y1="273.10" x2="168.19" y2="350.80" stroke="#cfcfcf" stroke-width="1"/>
<rect x="165.59" y="306.20" width="5.2" height="21.35" fill="#8de8ee" stroke="#77c9cf" stroke-width="0.7"/>
<line x1="165.59" y1="319.90" x2="170.79" y2="319.90" stroke="#6db5b9" stroke-width="1.2"/>
<line x1="175.91" y1="273.10" x2="175.91" y2="350.80" stroke="#cfcfcf" stroke-width="1"/>
<rect x="173.31" y="306.20" width="5.2" height="21.35" fill="#8de8ee" stroke="#77c9cf" stroke-width="0.7"/>
<line x1="173.31" y1="319.90" x2="178.51" y2="319.90" stroke="#6db5b9" stroke-width="1.2"/>
<line x1="183.63" y1="273.10" x2="183.63" y2="350.80" stroke="#cfcfcf" stroke-width="1"/>
<rect x="181.03" y="306.20" width="5.2" height="21.35" fill="#8de8ee" stroke="#77c9cf" stroke-width="0.7"/>
<line x1="181.03" y1="319.90" x2="186.23" y2="319.90" stroke="#6db5b9" stroke-width="1.2"/>
<line x1="191.35" y1="273.10" x2="191.35" y2="350.80" stroke="#cfcfcf" stroke-width="1"/>
<rect x="188.75" y="306.20" width="5.2" height="21.35" fill="#8de8ee" stroke="#77c9cf" stroke-width="0.7"/>
<line x1="188.75" y1="319.90" x2="193.95" y2="319.90" stroke="#6db5b9" stroke-width="1.2"/>
<line x1="199.07" y1="273.10" x2="199.07" y2="350.80" stroke="#cfcfcf" stroke-width="1"/>
<rect x="196.47" y="306.20" width="5.2" height="21.35" fill="#8de8ee" stroke="#77c9cf" stroke-width="0.7"/>
<line x1="196.47" y1="319.90" x2="201.67" y2="319.90" stroke="#6db5b9" stroke-width="1.2"/>
<line x1="206.78" y1="273.10" x2="206.78" y2="350.80" stroke="#cfcfcf" stroke-width="1"/>
<rect x="204.18" y="306.20" width="5.2" height="21.35" fill="#8de8ee" stroke="#77c9cf" stroke-width="0.7"/>
<line x1="204.18" y1="319.90" x2="209.38" y2="319.90" stroke="#6db5b9" stroke-width="1.2"/>
<line x1="214.50" y1="273.10" x2="214.50" y2="350.80" stroke="#cfcfcf" stroke-width="1"/>
<rect x="211.90" y="306.20" width="5.2" height="21.35" fill="#8de8ee" stroke="#77c9cf" stroke-width="0.7"/>
<line x1="211.90" y1="319.90" x2="217.10" y2="319.90" stroke="#6db5b9" stroke-width="1.2"/>
<line x1="222.22" y1="273.10" x2="222.22" y2="350.80" stroke="#cfcfcf" stroke-width="1"/>
<rect x="219.62" y="306.20" width="5.2" height="21.35" fill="#8de8ee" stroke="#77c9cf" stroke-width="0.7"/>
<line x1="219.62" y1="319.90" x2="224.82" y2="319.90" stroke="#6db5b9" stroke-width="1.2"/>
<line x1="229.94" y1="273.10" x2="229.94" y2="350.80" stroke="#cfcfcf" stroke-width="1"/>
<rect x="227.34" y="306.20" width="5.2" height="21.35" fill="#8de8ee" stroke="#77c9cf" stroke-width="0.7"/>
<line x1="227.34" y1="319.90" x2="232.54" y2="319.90" stroke="#6db5b9" stroke-width="1.2"/>
<line x1="237.66" y1="273.10" x2="237.66" y2="350.80" stroke="#cfcfcf" stroke-width="1"/>
<rect x="235.06" y="306.20" width="5.2" height="21.35" fill="#8de8ee" stroke="#77c9cf" stroke-width="0.7"/>
<line x1="235.06" y1="319.90" x2="240.26" y2="319.90" stroke="#6db5b9" stroke-width="1.2"/>
<line x1="245.38" y1="273.10" x2="245.38" y2="350.80" stroke="#cfcfcf" stroke-width="1"/>
<rect x="242.78" y="306.20" width="5.2" height="21.35" fill="#8de8ee" stroke="#77c9cf" stroke-width="0.7"/>
<line x1="242.78" y1="319.90" x2="247.98" y2="319.90" stroke="#6db5b9" stroke-width="1.2"/>
<line x1="253.10" y1="273.10" x2="253.10" y2="350.80" stroke="#cfcfcf" stroke-width="1"/>
<rect x="250.50" y="306.20" width="5.2" height="21.35" fill="#8de8ee" stroke="#77c9cf" stroke-width="0.7"/>
<line x1="250.50" y1="319.90" x2="255.70" y2="319.90" stroke="#6db5b9" stroke-width="1.2"/>
<line x1="260.81" y1="273.10" x2="260.81" y2="350.80" stroke="#cfcfcf" stroke-width="1"/>
<rect x="258.21" y="306.20" width="5.2" height="21.35" fill="#8de8ee" stroke="#77c9cf" stroke-width="0.7"/>
<line x1="258.21" y1="319.90" x2="263.41" y2="319.90" stroke="#6db5b9" stroke-width="1.2"/>
<line x1="268.53" y1="273.10" x2="268.53" y2="350.80" stroke="#cfcfcf" stroke-width="1"/>
<rect x="265.93" y="306.20" width="5.2" height="21.35" fill="#8de8ee" stroke="#77c9cf" stroke-width="0.7"/>
<line x1="265.93" y1="319.90" x2="271.13" y2="319.90" stroke="#6db5b9" stroke-width="1.2"/>
<line x1="276.25" y1="273.10" x2="276.25" y2="350.80" stroke="#cfcfcf" stroke-width="1"/>
<rect x="273.65" y="306.20" width="5.2" height="21.35" fill="#8de8ee" stroke="#77c9cf" stroke-width="0.7"/>
<line x1="273.65" y1="319.90" x2="278.85" y2="319.90" stroke="#6db5b9" stroke-width="1.2"/>
<line x1="283.97" y1="273.10" x2="283.97" y2="350.80" stroke="#cfcfcf" stroke-width="1"/>
<rect x="281.37" y="306.20" width="5.2" height="21.35" fill="#8de8ee" stroke="#77c9cf" stroke-width="0.7"/>
<line x1="281.37" y1="319.90" x2="286.57" y2="319.90" stroke="#6db5b9" stroke-width="1.2"/>
<line x1="291.69" y1="273.10" x2="291.69" y2="350.80" stroke="#cfcfcf" stroke-width="1"/>
<rect x="289.09" y="306.20" width="5.2" height="21.35" fill="#8de8ee" stroke="#77c9cf" stroke-width="0.7"/>
<line x1="289.09" y1="319.90" x2="294.29" y2="319.90" stroke="#6db5b9" stroke-width="1.2"/>
<line x1="299.41" y1="273.10" x2="299.41" y2="350.80" stroke="#cfcfcf" stroke-width="1"/>
<rect x="296.81" y="306.20" width="5.2" height="21.35" fill="#8de8ee" stroke="#77c9cf" stroke-width="0.7"/>
<line x1="296.81" y1="319.90" x2="302.01" y2="319.90" stroke="#6db5b9" stroke-width="1.2"/>
<line x1="307.13" y1="273.10" x2="307.13" y2="350.80" stroke="#cfcfcf" stroke-width="1"/>
<rect x="304.53" y="306.20" width="5.2" height="21.35" fill="#8de8ee" stroke="#77c9cf" stroke-width="0.7"/>
<line x1="304.53" y1="319.90" x2="309.73" y2="319.90" stroke="#6db5b9" stroke-width="1.2"/>
<line x1="314.84" y1="273.10" x2="314.84" y2="350.80" stroke="#cfcfcf" stroke-width="1"/>
<rect x="312.24" y="306.20" width="5.2" height="21.35" fill="#8de8ee" stroke="#77c9cf" stroke-width="0.7"/>
<line x1="312.24" y1="319.90" x2="317.44" y2="319.90" stroke="#6db5b9" stroke-width="1.2"/>
<line x1="322.56" y1="273.10" x2="322.56" y2="350.80" stroke="#cfcfcf" stroke-width="1"/>
<rect x="319.96" y="306.20" width="5.2" height="21.35" fill="#8de8ee" stroke="#77c9cf" stroke-width="0.7"/>
<line x1="319.96" y1="319.90" x2="325.16" y2="319.90" stroke="#6db5b9" stroke-width="1.2"/>
<line x1="330.28" y1="273.10" x2="330.28" y2="350.80" stroke="#cfcfcf" stroke-width="1"/>
<rect x="327.68" y="306.20" width="5.2" height="21.35" fill="#8de8ee" stroke="#77c9cf" stroke-width="0.7"/>
<line x1="327.68" y1="319.90" x2="332.88" y2="319.90" stroke="#6db5b9" stroke-width="1.2"/>
<line x1="338.00" y1="273.10" x2="338.00" y2="350.80" stroke="#cfcfcf" stroke-width="1"/>
<rect x="335.40" y="306.20" width="5.2" height="21.35" fill="#8de8ee" stroke="#77c9cf" stroke-width="0.7"/>
<line x1="335.40" y1="319.90" x2="340.60" y2="319.90" stroke="#6db5b9" stroke-width="1.2"/>
<line x1="345.72" y1="273.10" x2="345.72" y2="350.80" stroke="#cfcfcf" stroke-width="1"/>
<rect x="343.12" y="306.20" width="5.2" height="21.35" fill="#8de8ee" stroke="#77c9cf" stroke-width="0.7"/>
<line x1="343.12" y1="319.90" x2="348.32" y2="319.90" stroke="#6db5b9" stroke-width="1.2"/>
<line x1="353.44" y1="273.10" x2="353.44" y2="350.80" stroke="#cfcfcf" stroke-width="1"/>
<rect x="350.84" y="306.20" width="5.2" height="21.35" fill="#8de8ee" stroke="#77c9cf" stroke-width="0.7"/>
<line x1="350.84" y1="319.90" x2="356.04" y2="319.90" stroke="#6db5b9" stroke-width="1.2"/>
<line x1="361.16" y1="273.10" x2="361.16" y2="350.80" stroke="#cfcfcf" stroke-width="1"/>
<rect x="358.56" y="306.20" width="5.2" height="21.35" fill="#8de8ee" stroke="#77c9cf" stroke-width="0.7"/>
<line x1="358.56" y1="319.90" x2="363.76" y2="319.90" stroke="#6db5b9" stroke-width="1.2"/>
<line x1="368.87" y1="273.10" x2="368.87" y2="350.80" stroke="#cfcfcf" stroke-width="1"/>
<rect x="366.27" y="306.20" width="5.2" height="21.35" fill="#8de8ee" stroke="#77c9cf" stroke-width="0.7"/>
<line x1="366.27" y1="319.90" x2="371.47" y2="319.90" stroke="#6db5b9" stroke-width="1.2"/>
<line x1="376.59" y1="273.10" x2="376.59" y2="350.80" stroke="#cfcfcf" stroke-width="1"/>
<rect x="373.99" y="306.20" width="5.2" height="21.35" fill="#8de8ee" stroke="#77c9cf" stroke-width="0.7"/>
<line x1="373.99" y1="319.90" x2="379.19" y2="319.90" stroke="#6db5b9" stroke-width="1.2"/>
<line x1="384.31" y1="273.10" x2="384.31" y2="350.80" stroke="#cfcfcf" stroke-width="1"/>
<rect x="381.71" y="306.20" width="5.2" height="21.35" fill="#8de8ee" stroke="#77c9cf" stroke-width="0.7"/>
<line x1="381.71" y1="319.90" x2="386.91" y2="319.90" stroke="#6db5b9" stroke-width="1.2"/>
<line x1="392.03" y1="273.10" x2="392.03" y2="350.80" stroke="#cfcfcf" stroke-width="1"/>
<rect x="389.43" y="306.20" width="5.2" height="21.35" fill="#8de8ee" stroke="#77c9cf" stroke-width="0.7"/>
<line x1="389.43" y1="319.90" x2="394.63" y2="319.90" stroke="#6db5b9" stroke-width="1.2"/>
<line x1="399.75" y1="273.10" x2="399.75" y2="350.80" stroke="#cfcfcf" stroke-width="1"/>
<rect x="397.15" y="306.20" width="5.2" height="21.35" fill="#8de8ee" stroke="#77c9cf" stroke-width="0.7"/>
<line x1="397.15" y1="319.90" x2="402.35" y2="319.90" stroke="#6db5b9" stroke-width="1.2"/>
<line x1="407.47" y1="273.10" x2="407.47" y2="350.80" stroke="#cfcfcf" stroke-width="1"/>
<rect x="404.87" y="306.20" width="5.2" height="21.35" fill="#8de8ee" stroke="#77c9cf" stroke-width="0.7"/>
<line x1="404.87" y1="319.90" x2="410.07" y2="319.90" stroke="#6db5b9" stroke-width="1.2"/>
<line x1="415.19" y1="273.10" x2="415.19" y2="350.80" stroke="#cfcfcf" stroke-width="1"/>
<rect x="412.59" y="306.20" width="5.2" height="21.35" fill="#8de8ee" stroke="#77c9cf" stroke-width="0.7"/>
<line x1="412.59" y1="319.90" x2="417.79" y2="319.90" stroke="#6db5b9" stroke-width="1.2"/>
<line x1="422.90" y1="273.10" x2="422.90" y2="350.80" stroke="#cfcfcf" stroke-width="1"/>
<rect x="420.30" y="306.20" width="5.2" height="21.35" fill="#8de8ee" stroke="#77c9cf" stroke-width="0.7"/>
<line x1="420.30" y1="319.90" x2="425.50" y2="319.90" stroke="#6db5b9" stroke-width="1.2"/>
<line x1="430.62" y1="273.10" x2="430.62" y2="350.80" stroke="#cfcfcf" stroke-width="1"/>
<rect x="428.02" y="306.20" width="5.2" height="21.35" fill="#8de8ee" stroke="#77c9cf" stroke-width="0.7"/>
<line x1="428.02" y1="319.90" x2="433.22" y2="319.90" stroke="#6db5b9" stroke-width="1.2"/>
<line x1="438.34" y1="273.10" x2="438.34" y2="350.80" stroke="#cfcfcf" stroke-width="1"/>
<rect x="435.74" y="306.20" width="5.2" height="21.35" fill="#8de8ee" stroke="#77c9cf" stroke-width="0.7"/>
<line x1="435.74" y1="319.90" x2="440.94" y2="319.90" stroke="#6db5b9" stroke-width="1.2"/>
<line x1="446.06" y1="273.10" x2="446.06" y2="350.80" stroke="#cfcfcf" stroke-width="1"/>
<rect x="443.46" y="306.20" width="5.2" height="21.35" fill="#8de8ee" stroke="#77c9cf" stroke-width="0.7"/>
<line x1="443.46" y1="319.90" x2="448.66" y2="319.90" stroke="#6db5b9" stroke-width="1.2"/>
<line x1="453.78" y1="273.10" x2="453.78" y2="350.80" stroke="#cfcfcf" stroke-width="1"/>
<rect x="451.18" y="306.20" width="5.2" height="21.35" fill="#f1e616" stroke="#c2b820" stroke-width="0.7"/>
<line x1="451.18" y1="319.90" x2="456.38" y2="319.90" stroke="#b5aa12" stroke-width="1.2"/>
<line x1="461.50" y1="273.10" x2="461.50" y2="350.80" stroke="#cfcfcf" stroke-width="1"/>
<rect x="458.90" y="306.20" width="5.2" height="21.35" fill="#f1e616" stroke="#c2b820" stroke-width="0.7"/>
<line x1="458.90" y1="319.90" x2="464.10" y2="319.90" stroke="#b5aa12" stroke-width="1.2"/>
<line x1="469.22" y1="273.10" x2="469.22" y2="350.80" stroke="#cfcfcf" stroke-width="1"/>
<rect x="466.62" y="306.20" width="5.2" height="21.35" fill="#f1e616" stroke="#c2b820" stroke-width="0.7"/>
<line x1="466.62" y1="319.90" x2="471.82" y2="319.90" stroke="#b5aa12" stroke-width="1.2"/>
<line x1="476.93" y1="273.10" x2="476.93" y2="350.80" stroke="#cfcfcf" stroke-width="1"/>
<rect x="474.33" y="306.20" width="5.2" height="21.35" fill="#f1e616" stroke="#c2b820" stroke-width="0.7"/>
<line x1="474.33" y1="319.90" x2="479.53" y2="319.90" stroke="#b5aa12" stroke-width="1.2"/>
<line x1="484.65" y1="273.10" x2="484.65" y2="350.80" stroke="#cfcfcf" stroke-width="1"/>
<rect x="482.05" y="306.20" width="5.2" height="21.35" fill="#f1e616" stroke="#c2b820" stroke-width="0.7"/>
<line x1="482.05" y1="319.90" x2="487.25" y2="319.90" stroke="#b5aa12" stroke-width="1.2"/>
<line x1="492.37" y1="273.10" x2="492.37" y2="350.80" stroke="#cfcfcf" stroke-width="1"/>
<rect x="489.77" y="306.20" width="5.2" height="21.35" fill="#f1e616" stroke="#c2b820" stroke-width="0.7"/>
<line x1="489.77" y1="319.90" x2="494.97" y2="319.90" stroke="#b5aa12" stroke-width="1.2"/>
<line x1="500.09" y1="273.10" x2="500.09" y2="350.80" stroke="#cfcfcf" stroke-width="1"/>
<rect x="497.49" y="306.20" width="5.2" height="21.35" fill="#f1e616" stroke="#c2b820" stroke-width="0.7"/>
<line x1="497.49" y1="319.90" x2="502.69" y2="319.90" stroke="#b5aa12" stroke-width="1.2"/>
<line x1="507.81" y1="273.10" x2="507.81" y2="350.80" stroke="#cfcfcf" stroke-width="1"/>
<rect x="505.21" y="306.20" width="5.2" height="21.35" fill="#f1e616" stroke="#c2b820" stroke-width="0.7"/>
<line x1="505.21" y1="319.90" x2="510.41" y2="319.90" stroke="#b5aa12" stroke-width="1.2"/>
<line x1="515.53" y1="273.10" x2="515.53" y2="350.80" stroke="#cfcfcf" stroke-width="1"/>
<rect x="512.93" y="306.20" width="5.2" height="21.35" fill="#f1e616" stroke="#c2b820" stroke-width="0.7"/>
<line x1="512.93" y1="319.90" x2="518.13" y2="319.90" stroke="#b5aa12" stroke-width="1.2"/>
<line x1="523.25" y1="273.10" x2="523.25" y2="350.80" stroke="#cfcfcf" stroke-width="1"/>
<rect x="520.65" y="306.20" width="5.2" height="21.35" fill="#f1e616" stroke="#c2b820" stroke-width="0.7"/>
<line x1="520.65" y1="319.90" x2="525.85" y2="319.90" stroke="#b5aa12" stroke-width="1.2"/>
<line x1="530.96" y1="273.10" x2="530.96" y2="350.80" stroke="#cfcfcf" stroke-width="1"/>
<rect x="528.36" y="306.20" width="5.2" height="21.35" fill="#f1e616" stroke="#c2b820" stroke-width="0.7"/>
<line x1="528.36" y1="319.90" x2="533.56" y2="319.90" stroke="#b5aa12" stroke-width="1.2"/>
<line x1="538.68" y1="273.10" x2="538.68" y2="350.80" stroke="#cfcfcf" stroke-width="1"/>
<rect x="536.08" y="306.20" width="5.2" height="21.35" fill="#f1e616" stroke="#c2b820" stroke-width="0.7"/>
<line x1="536.08" y1="319.90" x2="541.28" y2="319.90" stroke="#b5aa12" stroke-width="1.2"/>
<line x1="546.40" y1="273.10" x2="546.40" y2="350.80" stroke="#cfcfcf" stroke-width="1"/>
<rect x="543.80" y="306.20" width="5.2" height="21.35" fill="#f1e616" stroke="#c2b820" stroke-width="0.7"/>
<line x1="543.80" y1="319.90" x2="549.00" y2="319.90" stroke="#b5aa12" stroke-width="1.2"/>
<line x1="554.12" y1="273.10" x2="554.12" y2="350.80" stroke="#cfcfcf" stroke-width="1"/>
<rect x="551.52" y="306.20" width="5.2" height="21.35" fill="#f1e616" stroke="#c2b820" stroke-width="0.7"/>
<line x1="551.52" y1="319.90" x2="556.72" y2="319.90" stroke="#b5aa12" stroke-width="1.2"/>
<line x1="561.84" y1="273.10" x2="561.84" y2="350.80" stroke="#cfcfcf" stroke-width="1"/>
<rect x="559.24" y="306.20" width="5.2" height="21.35" fill="#f1e616" stroke="#c2b820" stroke-width="0.7"/>
<line x1="559.24" y1="319.90" x2="564.44" y2="319.90" stroke="#b5aa12" stroke-width="1.2"/>
<line x1="569.56" y1="273.10" x2="569.56" y2="350.80" stroke="#cfcfcf" stroke-width="1"/>
<rect x="566.96" y="306.20" width="5.2" height="21.35" fill="#f1e616" stroke="#c2b820" stroke-width="0.7"/>
<line x1="566.96" y1="319.90" x2="572.16" y2="319.90" stroke="#b5aa12" stroke-width="1.2"/>
<line x1="577.28" y1="273.10" x2="577.28" y2="350.80" stroke="#cfcfcf" stroke-width="1"/>
<rect x="574.68" y="306.20" width="5.2" height="21.35" fill="#f1e616" stroke="#c2b820" stroke-width="0.7"/>
<line x1="574.68" y1="319.90" x2="579.88" y2="319.90" stroke="#b5aa12" stroke-width="1.2"/>
<line x1="584.99" y1="273.10" x2="584.99" y2="350.80" stroke="#cfcfcf" stroke-width="1"/>
<rect x="582.39" y="306.20" width="5.2" height="21.35" fill="#f1e616" stroke="#c2b820" stroke-width="0.7"/>
<line x1="582.39" y1="319.90" x2="587.59" y2="319.90" stroke="#b5aa12" stroke-width="1.2"/>
<line x1="592.71" y1="273.10" x2="592.71" y2="350.80" stroke="#cfcfcf" stroke-width="1"/>
<rect x="590.11" y="306.20" width="5.2" height="21.35" fill="#f1e616" stroke="#c2b820" stroke-width="0.7"/>
<line x1="590.11" y1="319.90" x2="595.31" y2="319.90" stroke="#b5aa12" stroke-width="1.2"/>
<line x1="600.43" y1="273.10" x2="600.43" y2="350.80" stroke="#cfcfcf" stroke-width="1"/>
<rect x="597.83" y="306.20" width="5.2" height="21.35" fill="#f1e616" stroke="#c2b820" stroke-width="0.7"/>
<line x1="597.83" y1="319.90" x2="603.03" y2="319.90" stroke="#b5aa12" stroke-width="1.2"/>
<line x1="608.15" y1="273.10" x2="608.15" y2="350.80" stroke="#cfcfcf" stroke-width="1"/>
<rect x="605.55" y="306.20" width="5.2" height="21.35" fill="#f1e616" stroke="#c2b820" stroke-width="0.7"/>
<line x1="605.55" y1="319.90" x2="610.75" y2="319.90" stroke="#b5aa12" stroke-width="1.2"/>
<line x1="615.87" y1="273.10" x2="615.87" y2="350.80" stroke="#cfcfcf" stroke-width="1"/>
<rect x="613.27" y="306.20" width="5.2" height="21.35" fill="#f1e616" stroke="#c2b820" stroke-width="0.7"/>
<line x1="613.27" y1="319.90" x2="618.47" y2="319.90" stroke="#b5aa12" stroke-width="1.2"/>
<line x1="55.5" y1="224.6" x2="620.5" y2="224.6" stroke="#4a4a4a" stroke-width="1.1"/>
<line x1="55.5" y1="397.3" x2="620.5" y2="397.3" stroke="#4a4a4a" stroke-width="1.1"/>
<line x1="620.5" y1="224.6" x2="620.5" y2="397.3" stroke="#4a4a4a" stroke-width="1.1"/>
<line x1="55.5" y1="224.6" x2="55.5" y2="397.3" stroke="#4a4a4a" stroke-width="1.1"/>
<line x1="51.0" y1="397.30" x2="55.5" y2="397.30" stroke="#4a4a4a" stroke-width="1.1"/>
<text x="47.2" y="401.00" text-anchor="end" font-size="11" fill="#222">0</text>
<line x1="51.0" y1="339.73" x2="55.5" y2="339.73" stroke="#4a4a4a" stroke-width="1.1"/>
<text x="47.2" y="343.43" text-anchor="end" font-size="11" fill="#222">5</text>
<line x1="51.0" y1="282.17" x2="55.5" y2="282.17" stroke="#4a4a4a" stroke-width="1.1"/>
<text x="47.2" y="285.87" text-anchor="end" font-size="11" fill="#222">10</text>
<line x1="51.0" y1="224.60" x2="55.5" y2="224.60" stroke="#4a4a4a" stroke-width="1.1"/>
<text x="47.2" y="228.30" text-anchor="end" font-size="11" fill="#222">15</text>
<text x="-0.3" y="421.7" font-size="21.8" fill="#000">C</text>
<text x="48.6" y="413.1" font-size="11.3" fill="#1a1a1a">Before Normalization</text>
<line x1="64.67" y1="419.6" x2="64.67" y2="622.2" stroke="#f5f5f5" stroke-width="0.9"/>
<line x1="121.41" y1="419.6" x2="121.41" y2="622.2" stroke="#f5f5f5" stroke-width="0.9"/>
<line x1="178.13" y1="419.6" x2="178.13" y2="622.2" stroke="#f5f5f5" stroke-width="0.9"/>
<line x1="234.87" y1="419.6" x2="234.87" y2="622.2" stroke="#f5f5f5" stroke-width="0.9"/>
<line x1="48.5" y1="564.78" x2="273.9" y2="564.78" stroke="#f5f5f5" stroke-width="0.9"/>
<line x1="48.5" y1="505.63" x2="273.9" y2="505.63" stroke="#f5f5f5" stroke-width="0.9"/>
<line x1="48.5" y1="446.48" x2="273.9" y2="446.48" stroke="#f5f5f5" stroke-width="0.9"/>
<line x1="93.04" y1="419.6" x2="93.04" y2="622.2" stroke="#efefef" stroke-width="1"/>
<line x1="149.77" y1="419.6" x2="149.77" y2="622.2" stroke="#efefef" stroke-width="1"/>
<line x1="206.50" y1="419.6" x2="206.50" y2="622.2" stroke="#efefef" stroke-width="1"/>
<line x1="263.23" y1="419.6" x2="263.23" y2="622.2" stroke="#efefef" stroke-width="1"/>
<line x1="48.5" y1="594.35" x2="273.9" y2="594.35" stroke="#efefef" stroke-width="1"/>
<line x1="48.5" y1="535.20" x2="273.9" y2="535.20" stroke="#efefef" stroke-width="1"/>
<line x1="48.5" y1="476.05" x2="273.9" y2="476.05" stroke="#efefef" stroke-width="1"/>
<ellipse cx="141.05" cy="520.90" rx="123.30" ry="5.50" transform="rotate(-48.00 141.05 520.90)" fill="#f2e512" fill-opacity="0.1" stroke="#f2e512" stroke-width="0.95"/>
<ellipse cx="234.90" cy="541.90" rx="41.60" ry="3.20" transform="rotate(-45.40 234.90 541.90)" fill="#8ae3ea" fill-opacity="0.15" stroke="#8ae3ea" stroke-width="0.95"/>
<circle cx="77.80" cy="588.10" r="1.6" fill="#f2e512"/>
<circle cx="88.60" cy="580.00" r="1.6" fill="#f2e512"/>
<circle cx="90.00" cy="579.00" r="1.6" fill="#f2e512"/>
<circle cx="97.40" cy="570.20" r="1.6" fill="#f2e512"/>
<circle cx="105.10" cy="562.80" r="1.6" fill="#f2e512"/>
<circle cx="129.70" cy="540.70" r="1.6" fill="#f2e512"/>
<circle cx="131.10" cy="527.60" r="1.6" fill="#f2e512"/>
<circle cx="137.40" cy="524.80" r="1.6" fill="#f2e512"/>
<circle cx="139.50" cy="523.40" r="1.6" fill="#f2e512"/>
<circle cx="145.10" cy="515.40" r="1.6" fill="#f2e512"/>
<circle cx="149.00" cy="513.20" r="1.6" fill="#f2e512"/>
<circle cx="150.00" cy="509.80" r="1.6" fill="#f2e512"/>
<circle cx="153.50" cy="505.20" r="1.6" fill="#f2e512"/>
<circle cx="156.30" cy="503.10" r="1.6" fill="#f2e512"/>
<circle cx="158.40" cy="501.70" r="1.6" fill="#f2e512"/>
<circle cx="163.70" cy="496.50" r="1.6" fill="#f2e512"/>
<circle cx="168.50" cy="488.10" r="1.6" fill="#f2e512"/>
<circle cx="171.20" cy="486.90" r="1.6" fill="#f2e512"/>
<circle cx="168.90" cy="488.00" r="1.6" fill="#f2e512"/>
<circle cx="172.00" cy="481.10" r="1.6" fill="#f2e512"/>
<circle cx="176.70" cy="481.70" r="1.6" fill="#f2e512"/>
<circle cx="189.60" cy="474.00" r="1.6" fill="#f2e512"/>
<path d="M230.78,545.58L232.68,548.62L228.88,548.62Z" fill="#8ae3ea"/>
<path d="M237.40,540.00L239.30,543.04L235.50,543.04Z" fill="#8ae3ea"/>
<path d="M235.40,541.92L237.30,544.96L233.50,544.96Z" fill="#8ae3ea"/>
<path d="M209.14,565.94L211.04,568.98L207.24,568.98Z" fill="#8ae3ea"/>
<path d="M241.76,533.91L243.66,536.95L239.86,536.95Z" fill="#8ae3ea"/>
<path d="M238.75,533.91L240.65,536.95L236.85,536.95Z" fill="#8ae3ea"/>
<path d="M223.96,549.66L225.86,552.70L222.06,552.70Z" fill="#8ae3ea"/>
<path d="M227.52,547.92L229.42,550.96L225.62,550.96Z" fill="#8ae3ea"/>
<path d="M207.87,565.81L209.77,568.85L205.97,568.85Z" fill="#8ae3ea"/>
<path d="M219.22,558.29L221.12,561.33L217.32,561.33Z" fill="#8ae3ea"/>
<path d="M234.13,538.86L236.03,541.90L232.23,541.90Z" fill="#8ae3ea"/>
<path d="M235.18,537.68L237.08,540.72L233.28,540.72Z" fill="#8ae3ea"/>
<path d="M228.83,544.04L230.73,547.08L226.93,547.08Z" fill="#8ae3ea"/>
<path d="M209.34,568.05L211.24,571.09L207.44,571.09Z" fill="#8ae3ea"/>
<path d="M214.76,558.82L216.66,561.86L212.86,561.86Z" fill="#8ae3ea"/>
<path d="M243.77,533.14L245.67,536.18L241.87,536.18Z" fill="#8ae3ea"/>
<path d="M219.69,558.07L221.59,561.11L217.79,561.11Z" fill="#8ae3ea"/>
<path d="M227.66,548.37L229.56,551.41L225.76,551.41Z" fill="#8ae3ea"/>
<path d="M216.66,561.02L218.56,564.06L214.76,564.06Z" fill="#8ae3ea"/>
<path d="M233.79,543.79L235.69,546.83L231.89,546.83Z" fill="#8ae3ea"/>
<path d="M239.02,534.69L240.92,537.73L237.12,537.73Z" fill="#8ae3ea"/>
<path d="M219.95,553.28L221.85,556.32L218.05,556.32Z" fill="#8ae3ea"/>
<path d="M212.09,560.66L213.99,563.70L210.19,563.70Z" fill="#8ae3ea"/>
<path d="M219.09,556.63L220.99,559.67L217.19,559.67Z" fill="#8ae3ea"/>
<path d="M208.84,567.45L210.74,570.49L206.94,570.49Z" fill="#8ae3ea"/>
<path d="M219.54,554.51L221.44,557.55L217.64,557.55Z" fill="#8ae3ea"/>
<path d="M236.90,537.88L238.80,540.92L235.00,540.92Z" fill="#8ae3ea"/>
<path d="M219.25,555.78L221.15,558.82L217.35,558.82Z" fill="#8ae3ea"/>
<path d="M231.70,540.74L233.60,543.78L229.80,543.78Z" fill="#8ae3ea"/>
<path d="M241.09,531.02L242.99,534.06L239.19,534.06Z" fill="#8ae3ea"/>
<path d="M235.52,541.35L237.42,544.39L233.62,544.39Z" fill="#8ae3ea"/>
<path d="M209.67,567.24L211.57,570.28L207.77,570.28Z" fill="#8ae3ea"/>
<path d="M221.30,554.26L223.20,557.30L219.40,557.30Z" fill="#8ae3ea"/>
<path d="M207.25,565.48L209.15,568.52L205.35,568.52Z" fill="#8ae3ea"/>
<path d="M215.87,561.91L217.77,564.95L213.97,564.95Z" fill="#8ae3ea"/>
<path d="M215.85,560.79L217.75,563.83L213.95,563.83Z" fill="#8ae3ea"/>
<path d="M242.12,535.22L244.02,538.26L240.22,538.26Z" fill="#8ae3ea"/>
<path d="M219.90,554.40L221.80,557.44L218.00,557.44Z" fill="#8ae3ea"/>
<path d="M227.42,549.17L229.32,552.21L225.52,552.21Z" fill="#8ae3ea"/>
<path d="M212.72,563.92L214.62,566.96L210.82,566.96Z" fill="#8ae3ea"/>
<path d="M237.23,539.70L239.13,542.74L235.33,542.74Z" fill="#8ae3ea"/>
<path d="M210.77,567.02L212.67,570.06L208.87,570.06Z" fill="#8ae3ea"/>
<path d="M210.97,563.38L212.87,566.42L209.07,566.42Z" fill="#8ae3ea"/>
<path d="M230.85,546.50L232.75,549.54L228.95,549.54Z" fill="#8ae3ea"/>
<path d="M221.36,556.16L223.26,559.20L219.46,559.20Z" fill="#8ae3ea"/>
<path d="M226.82,547.14L228.72,550.18L224.92,550.18Z" fill="#8ae3ea"/>
<path d="M218.42,554.89L220.32,557.93L216.52,557.93Z" fill="#8ae3ea"/>
<path d="M209.96,563.30L211.86,566.34L208.06,566.34Z" fill="#8ae3ea"/>
<path d="M233.83,543.93L235.73,546.97L231.93,546.97Z" fill="#8ae3ea"/>
<path d="M212.60,560.05L214.50,563.09L210.70,563.09Z" fill="#8ae3ea"/>
<path d="M242.95,532.04L244.85,535.08L241.05,535.08Z" fill="#8ae3ea"/>
<path d="M221.72,551.88L223.62,554.92L219.82,554.92Z" fill="#8ae3ea"/>
<path d="M230.00,546.84L231.90,549.88L228.10,549.88Z" fill="#8ae3ea"/>
<path d="M223.99,550.63L225.89,553.67L222.09,553.67Z" fill="#8ae3ea"/>
<path d="M211.36,566.26L213.26,569.30L209.46,569.30Z" fill="#8ae3ea"/>
<path d="M209.35,565.89L211.25,568.93L207.45,568.93Z" fill="#8ae3ea"/>
<path d="M236.60,536.19L238.50,539.23L234.70,539.23Z" fill="#8ae3ea"/>
<path d="M235.19,542.29L237.09,545.33L233.29,545.33Z" fill="#8ae3ea"/>
<path d="M231.17,545.44L233.07,548.48L229.27,548.48Z" fill="#8ae3ea"/>
<path d="M211.78,563.09L213.68,566.13L209.88,566.13Z" fill="#8ae3ea"/>
<path d="M214.44,562.73L216.34,565.77L212.54,565.77Z" fill="#8ae3ea"/>
<path d="M218.43,556.44L220.33,559.48L216.53,559.48Z" fill="#8ae3ea"/>
<path d="M244.30,532.49L246.20,535.53L242.40,535.53Z" fill="#8ae3ea"/>
<path d="M242.35,532.19L244.25,535.23L240.45,535.23Z" fill="#8ae3ea"/>
<path d="M226.01,550.34L227.91,553.38L224.11,553.38Z" fill="#8ae3ea"/>
<path d="M224.44,549.43L226.34,552.47L222.54,552.47Z" fill="#8ae3ea"/>
<path d="M221.39,551.70L223.29,554.74L219.49,554.74Z" fill="#8ae3ea"/>
<path d="M222.84,555.02L224.74,558.06L220.94,558.06Z" fill="#8ae3ea"/>
<path d="M242.28,533.26L244.18,536.30L240.38,536.30Z" fill="#8ae3ea"/>
<path d="M225.29,548.84L227.19,551.88L223.39,551.88Z" fill="#8ae3ea"/>
<path d="M246.03,531.88L247.93,534.92L244.13,534.92Z" fill="#8ae3ea"/>
<path d="M251.57,525.75L253.47,528.79L249.67,528.79Z" fill="#8ae3ea"/>
<path d="M255.05,522.93L256.95,525.97L253.15,525.97Z" fill="#8ae3ea"/>
<path d="M253.21,524.43L255.11,527.47L251.31,527.47Z" fill="#8ae3ea"/>
<path d="M253.99,524.18L255.89,527.22L252.09,527.22Z" fill="#8ae3ea"/>
<path d="M248.50,529.88L250.40,532.92L246.60,532.92Z" fill="#8ae3ea"/>
<path d="M246.10,525.61L248.00,528.65L244.20,528.65Z" fill="#8ae3ea"/>
<path d="M244.94,532.77L246.84,535.81L243.04,535.81Z" fill="#8ae3ea"/>
<path d="M248.53,529.69L250.43,532.73L246.63,532.73Z" fill="#8ae3ea"/>
<path d="M252.99,524.63L254.89,527.67L251.09,527.67Z" fill="#8ae3ea"/>
<path d="M259.83,515.35L261.83,518.55L257.83,518.55Z" fill="#8ae3ea"/>
<path d="M259.81,512.52L261.81,515.72L257.81,515.72Z" fill="#8ae3ea"/>
<path d="M261.60,515.69L263.60,518.89L259.60,518.89Z" fill="#8ae3ea"/>
<path d="M256.29,514.66L258.29,517.86L254.29,517.86Z" fill="#8ae3ea"/>
<path d="M254.59,524.22L256.59,527.42L252.59,527.42Z" fill="#8ae3ea"/>
<path d="M253.47,525.93L255.47,529.13L251.47,529.13Z" fill="#8ae3ea"/>
<path d="M218.78,560.54L220.78,563.74L216.78,563.74Z" fill="#8ae3ea"/>
<path d="M216.19,563.59L218.19,566.79L214.19,566.79Z" fill="#8ae3ea"/>
<path d="M222.99,556.26L224.99,559.46L220.99,559.46Z" fill="#8ae3ea"/>
<circle cx="141.30" cy="520.90" r="2.6" fill="#f2e512"/>
<circle cx="140.00" cy="522.50" r="1.8" fill="#f2e512"/>
<path d="M234.90,538.92L237.90,543.72L231.90,543.72Z" fill="#8ae3ea"/>
<line x1="48.5" y1="535.30" x2="273.9" y2="535.30" stroke="#222" stroke-width="1" stroke-dasharray="3.4 3"/>
<line x1="206.50" y1="419.6" x2="206.50" y2="622.2" stroke="#222" stroke-width="1" stroke-dasharray="3.4 3"/>
<line x1="48.5" y1="419.6" x2="273.9" y2="419.6" stroke="#8c8c8c" stroke-width="1"/>
<line x1="273.9" y1="419.6" x2="273.9" y2="622.2" stroke="#8c8c8c" stroke-width="1"/>
<line x1="48.5" y1="419.1" x2="48.5" y2="622.7" stroke="#777" stroke-width="1"/>
<line x1="48.0" y1="622.2" x2="274.4" y2="622.2" stroke="#777" stroke-width="1"/>
<line x1="93.04" y1="622.2" x2="93.04" y2="624.0" stroke="#333" stroke-width="1"/>
<text x="95.14" y="631.00" text-anchor="middle" font-size="8.8" fill="#3a3a3a">−200</text>
<line x1="149.77" y1="622.2" x2="149.77" y2="624.0" stroke="#333" stroke-width="1"/>
<text x="151.87" y="631.00" text-anchor="middle" font-size="8.8" fill="#3a3a3a">−100</text>
<line x1="206.50" y1="622.2" x2="206.50" y2="624.0" stroke="#333" stroke-width="1"/>
<text x="206.50" y="631.00" text-anchor="middle" font-size="8.8" fill="#3a3a3a">0</text>
<line x1="263.23" y1="622.2" x2="263.23" y2="624.0" stroke="#333" stroke-width="1"/>
<text x="264.43" y="631.00" text-anchor="middle" font-size="8.8" fill="#3a3a3a">100</text>
<line x1="46.7" y1="594.35" x2="48.5" y2="594.35" stroke="#333" stroke-width="1"/>
<text x="45.00" y="597.15" text-anchor="end" font-size="8.8" fill="#3a3a3a">−100</text>
<line x1="46.7" y1="535.20" x2="48.5" y2="535.20" stroke="#333" stroke-width="1"/>
<text x="45.00" y="538.00" text-anchor="end" font-size="8.8" fill="#3a3a3a">0</text>
<line x1="46.7" y1="476.05" x2="48.5" y2="476.05" stroke="#333" stroke-width="1"/>
<text x="45.00" y="478.85" text-anchor="end" font-size="8.8" fill="#3a3a3a">100</text>
<text x="161.2" y="640.7" text-anchor="middle" font-size="8.5" fill="#1a1a1a">Dim1 (64.7%)</text>
<text transform="translate(25.9 521) rotate(-90)" text-anchor="middle" font-size="8.5" fill="#1a1a1a">Dim2 (14.3%)</text>
<text x="286.6" y="508.9" font-size="8.5" fill="#1a1a1a">Group</text>
<rect x="286.90000000000003" y="514.4999999999999" width="12.2" height="12.2" fill="#f2e512" fill-opacity="0.1" stroke="#f2e512" stroke-width="1"/>
<circle cx="293.00" cy="520.60" r="3.0" fill="#f2e512"/>
<text x="303.8" y="522.9" font-size="8.5" fill="#1a1a1a">GSE1428</text>
<rect x="286.90000000000003" y="527.5999999999999" width="12.2" height="12.2" fill="#8ae3ea" fill-opacity="0.1" stroke="#8ae3ea" stroke-width="1"/>
<path d="M293.00,530.03L296.90,536.27L289.10,536.27Z" fill="#8ae3ea"/>
<text x="303.8" y="536.0" font-size="8.5" fill="#1a1a1a">GSE8479</text>
<text x="341.9" y="421.7" font-size="21.8" fill="#000">D</text>
<text x="388.5" y="413.1" font-size="11.4" fill="#1a1a1a">After Normalization</text>
<line x1="420.20" y1="419.6" x2="420.20" y2="622.2" stroke="#f5f5f5" stroke-width="0.9"/>
<line x1="475.60" y1="419.6" x2="475.60" y2="622.2" stroke="#f5f5f5" stroke-width="0.9"/>
<line x1="531.00" y1="419.6" x2="531.00" y2="622.2" stroke="#f5f5f5" stroke-width="0.9"/>
<line x1="586.40" y1="419.6" x2="586.40" y2="622.2" stroke="#f5f5f5" stroke-width="0.9"/>
<line x1="388.6" y1="609.38" x2="617.6" y2="609.38" stroke="#f5f5f5" stroke-width="0.9"/>
<line x1="388.6" y1="551.12" x2="617.6" y2="551.12" stroke="#f5f5f5" stroke-width="0.9"/>
<line x1="388.6" y1="492.88" x2="617.6" y2="492.88" stroke="#f5f5f5" stroke-width="0.9"/>
<line x1="388.6" y1="434.62" x2="617.6" y2="434.62" stroke="#f5f5f5" stroke-width="0.9"/>
<line x1="392.50" y1="419.6" x2="392.50" y2="622.2" stroke="#efefef" stroke-width="1"/>
<line x1="447.90" y1="419.6" x2="447.90" y2="622.2" stroke="#efefef" stroke-width="1"/>
<line x1="503.30" y1="419.6" x2="503.30" y2="622.2" stroke="#efefef" stroke-width="1"/>
<line x1="558.70" y1="419.6" x2="558.70" y2="622.2" stroke="#efefef" stroke-width="1"/>
<line x1="614.10" y1="419.6" x2="614.10" y2="622.2" stroke="#efefef" stroke-width="1"/>
<line x1="388.6" y1="580.25" x2="617.6" y2="580.25" stroke="#efefef" stroke-width="1"/>
<line x1="388.6" y1="522.00" x2="617.6" y2="522.00" stroke="#efefef" stroke-width="1"/>
<line x1="388.6" y1="463.75" x2="617.6" y2="463.75" stroke="#efefef" stroke-width="1"/>
<ellipse cx="503.08" cy="520.54" rx="136.03" ry="29.61" transform="rotate(-41.13 503.08 520.54)" fill="#f2e512" fill-opacity="0.1" stroke="#f2e512" stroke-width="0.95"/>
<ellipse cx="503.30" cy="522.53" rx="103.63" ry="62.84" transform="rotate(48.17 503.30 522.53)" fill="#8ae3ea" fill-opacity="0.1" stroke="#8ae3ea" stroke-width="0.95"/>
<circle cx="607.20" cy="430.60" r="1.7" fill="#f2e512"/>
<circle cx="562.50" cy="446.80" r="1.7" fill="#f2e512"/>
<circle cx="601.80" cy="451.00" r="1.7" fill="#f2e512"/>
<circle cx="553.40" cy="487.50" r="1.7" fill="#f2e512"/>
<circle cx="494.30" cy="515.40" r="1.7" fill="#f2e512"/>
<circle cx="483.10" cy="522.00" r="1.7" fill="#f2e512"/>
<circle cx="480.50" cy="525.20" r="1.7" fill="#f2e512"/>
<circle cx="476.60" cy="529.30" r="1.7" fill="#f2e512"/>
<circle cx="478.00" cy="529.30" r="1.7" fill="#f2e512"/>
<circle cx="481.80" cy="528.50" r="1.7" fill="#f2e512"/>
<circle cx="483.40" cy="529.30" r="1.7" fill="#f2e512"/>
<circle cx="477.40" cy="532.90" r="1.7" fill="#f2e512"/>
<circle cx="488.60" cy="532.40" r="1.7" fill="#f2e512"/>
<circle cx="489.20" cy="535.30" r="1.7" fill="#f2e512"/>
<circle cx="478.50" cy="541.30" r="1.7" fill="#f2e512"/>
<circle cx="489.90" cy="541.60" r="1.7" fill="#f2e512"/>
<circle cx="485.40" cy="547.80" r="1.7" fill="#f2e512"/>
<circle cx="492.10" cy="548.00" r="1.7" fill="#f2e512"/>
<circle cx="485.60" cy="554.30" r="1.7" fill="#f2e512"/>
<circle cx="502.50" cy="559.50" r="1.7" fill="#f2e512"/>
<path d="M435.20,426.82L437.70,430.82L432.70,430.82Z" fill="#8ae3ea"/>
<path d="M417.30,436.22L419.80,440.22L414.80,440.22Z" fill="#8ae3ea"/>
<path d="M483.70,442.32L486.20,446.32L481.20,446.32Z" fill="#8ae3ea"/>
<path d="M496.60,467.32L499.10,471.32L494.10,471.32Z" fill="#8ae3ea"/>
<path d="M465.50,477.82L468.00,481.82L463.00,481.82Z" fill="#8ae3ea"/>
<path d="M474.20,477.82L476.70,481.82L471.70,481.82Z" fill="#8ae3ea"/>
<path d="M457.10,485.62L459.60,489.62L454.60,489.62Z" fill="#8ae3ea"/>
<path d="M494.00,482.32L496.50,486.32L491.50,486.32Z" fill="#8ae3ea"/>
<path d="M481.90,494.62L484.40,498.62L479.40,498.62Z" fill="#8ae3ea"/>
<path d="M471.40,499.62L473.90,503.62L468.90,503.62Z" fill="#8ae3ea"/>
<path d="M476.70,500.62L479.20,504.62L474.20,504.62Z" fill="#8ae3ea"/>
<path d="M436.20,502.42L438.70,506.42L433.70,506.42Z" fill="#8ae3ea"/>
<path d="M451.10,503.02L453.60,507.02L448.60,507.02Z" fill="#8ae3ea"/>
<path d="M487.80,509.02L490.30,513.02L485.30,513.02Z" fill="#8ae3ea"/>
<path d="M474.20,512.12L476.70,516.12L471.70,516.12Z" fill="#8ae3ea"/>
<path d="M499.00,515.72L501.50,519.72L496.50,519.72Z" fill="#8ae3ea"/>
<path d="M517.80,494.52L520.30,498.52L515.30,498.52Z" fill="#8ae3ea"/>
<path d="M521.80,499.12L524.30,503.12L519.30,503.12Z" fill="#8ae3ea"/>
<path d="M520.50,500.52L523.00,504.52L518.00,504.52Z" fill="#8ae3ea"/>
<path d="M549.20,500.52L551.70,504.52L546.70,504.52Z" fill="#8ae3ea"/>
<path d="M512.60,506.12L515.10,510.12L510.10,510.12Z" fill="#8ae3ea"/>
<path d="M509.80,509.62L512.30,513.62L507.30,513.62Z" fill="#8ae3ea"/>
<path d="M515.00,517.32L517.50,521.32L512.50,521.32Z" fill="#8ae3ea"/>
<path d="M506.30,527.92L508.80,531.92L503.80,531.92Z" fill="#8ae3ea"/>
<path d="M501.40,532.22L503.90,536.22L498.90,536.22Z" fill="#8ae3ea"/>
<path d="M494.30,535.02L496.80,539.02L491.80,539.02Z" fill="#8ae3ea"/>
<path d="M514.40,533.32L516.90,537.32L511.90,537.32Z" fill="#8ae3ea"/>
<path d="M487.00,539.12L489.50,543.12L484.50,543.12Z" fill="#8ae3ea"/>
<path d="M494.10,542.82L496.60,546.82L491.60,546.82Z" fill="#8ae3ea"/>
<path d="M484.50,556.72L487.00,560.72L482.00,560.72Z" fill="#8ae3ea"/>
<path d="M477.40,559.52L479.90,563.52L474.90,563.52Z" fill="#8ae3ea"/>
<path d="M486.00,556.82L488.50,560.82L483.50,560.82Z" fill="#8ae3ea"/>
<path d="M485.60,581.82L488.10,585.82L483.10,585.82Z" fill="#8ae3ea"/>
<path d="M512.10,572.72L514.60,576.72L509.60,576.72Z" fill="#8ae3ea"/>
<path d="M511.80,588.82L514.30,592.82L509.30,592.82Z" fill="#8ae3ea"/>
<path d="M513.80,565.12L516.30,569.12L511.30,569.12Z" fill="#8ae3ea"/>
<path d="M518.70,556.82L521.20,560.82L516.20,560.82Z" fill="#8ae3ea"/>
<path d="M521.50,559.92L524.00,563.92L519.00,563.92Z" fill="#8ae3ea"/>
<path d="M525.70,552.12L528.20,556.12L523.20,556.12Z" fill="#8ae3ea"/>
<path d="M528.80,549.92L531.30,553.92L526.30,553.92Z" fill="#8ae3ea"/>
<path d="M533.30,547.22L535.80,551.22L530.80,551.22Z" fill="#8ae3ea"/>
<path d="M541.50,538.02L544.00,542.02L539.00,542.02Z" fill="#8ae3ea"/>
<path d="M548.80,529.82L551.30,533.82L546.30,533.82Z" fill="#8ae3ea"/>
<path d="M555.20,524.42L557.70,528.42L552.70,528.42Z" fill="#8ae3ea"/>
<path d="M568.50,527.52L571.00,531.52L566.00,531.52Z" fill="#8ae3ea"/>
<path d="M567.10,533.52L569.60,537.52L564.60,537.52Z" fill="#8ae3ea"/>
<path d="M539.70,521.32L542.20,525.32L537.20,525.32Z" fill="#8ae3ea"/>
<path d="M532.40,531.72L534.90,535.72L529.90,535.72Z" fill="#8ae3ea"/>
<path d="M525.10,532.02L527.60,536.02L522.60,536.02Z" fill="#8ae3ea"/>
<path d="M514.70,532.92L517.20,536.92L512.20,536.92Z" fill="#8ae3ea"/>
<path d="M498.80,515.82L501.30,519.82L496.30,519.82Z" fill="#8ae3ea"/>
<path d="M515.10,517.12L517.60,521.12L512.60,521.12Z" fill="#8ae3ea"/>
<circle cx="503.30" cy="521.60" r="2.7" fill="#f2e512"/>
<path d="M503.50,518.83L507.00,524.43L500.00,524.43Z" fill="#8ae3ea"/>
<line x1="388.6" y1="522.20" x2="617.6" y2="522.20" stroke="#222" stroke-width="1" stroke-dasharray="3.4 3"/>
<line x1="503.30" y1="419.6" x2="503.30" y2="622.2" stroke="#222" stroke-width="1" stroke-dasharray="3.4 3"/>
<line x1="388.6" y1="419.6" x2="617.6" y2="419.6" stroke="#8c8c8c" stroke-width="1"/>
<line x1="617.6" y1="419.6" x2="617.6" y2="622.2" stroke="#8c8c8c" stroke-width="1"/>
<line x1="388.6" y1="419.1" x2="388.6" y2="622.7" stroke="#777" stroke-width="1"/>
<line x1="388.1" y1="622.2" x2="618.1" y2="622.2" stroke="#777" stroke-width="1"/>
<line x1="392.50" y1="622.2" x2="392.50" y2="624.0" stroke="#333" stroke-width="1"/>
<text x="394.60" y="631.00" text-anchor="middle" font-size="8.8" fill="#3a3a3a">−100</text>
<line x1="447.90" y1="622.2" x2="447.90" y2="624.0" stroke="#333" stroke-width="1"/>
<text x="450.00" y="631.00" text-anchor="middle" font-size="8.8" fill="#3a3a3a">−50</text>
<line x1="503.30" y1="622.2" x2="503.30" y2="624.0" stroke="#333" stroke-width="1"/>
<text x="503.30" y="631.00" text-anchor="middle" font-size="8.8" fill="#3a3a3a">0</text>
<line x1="558.70" y1="622.2" x2="558.70" y2="624.0" stroke="#333" stroke-width="1"/>
<text x="559.90" y="631.00" text-anchor="middle" font-size="8.8" fill="#3a3a3a">50</text>
<line x1="614.10" y1="622.2" x2="614.10" y2="624.0" stroke="#333" stroke-width="1"/>
<text x="615.30" y="631.00" text-anchor="middle" font-size="8.8" fill="#3a3a3a">100</text>
<line x1="386.8" y1="580.25" x2="388.6" y2="580.25" stroke="#333" stroke-width="1"/>
<text x="386.60" y="583.05" text-anchor="end" font-size="8.8" fill="#3a3a3a">−50</text>
<line x1="386.8" y1="522.00" x2="388.6" y2="522.00" stroke="#333" stroke-width="1"/>
<text x="386.60" y="524.80" text-anchor="end" font-size="8.8" fill="#3a3a3a">0</text>
<line x1="386.8" y1="463.75" x2="388.6" y2="463.75" stroke="#333" stroke-width="1"/>
<text x="386.60" y="466.55" text-anchor="end" font-size="8.8" fill="#3a3a3a">50</text>
<text x="503.1" y="640.7" text-anchor="middle" font-size="8.5" fill="#1a1a1a">Dim1 (9.1%)</text>
<text transform="translate(369.9 520.7) rotate(-90)" text-anchor="middle" font-size="8.5" fill="#1a1a1a">Dim2 (8.2%)</text>
<text x="630.5" y="508.9" font-size="8.5" fill="#1a1a1a">Group</text>
<rect x="630.8" y="514.4999999999999" width="12.2" height="12.2" fill="#f2e512" fill-opacity="0.1" stroke="#f2e512" stroke-width="1"/>
<circle cx="636.90" cy="520.60" r="3.0" fill="#f2e512"/>
<text x="647.7" y="522.9" font-size="8.5" fill="#1a1a1a">GSE1428</text>
<rect x="630.8" y="527.5999999999999" width="12.2" height="12.2" fill="#8ae3ea" fill-opacity="0.1" stroke="#8ae3ea" stroke-width="1"/>
<path d="M636.90,530.03L640.80,536.27L633.00,536.27Z" fill="#8ae3ea"/>
<text x="647.7" y="536.0" font-size="8.5" fill="#1a1a1a">GSE8479</text>
</svg></body></html>
